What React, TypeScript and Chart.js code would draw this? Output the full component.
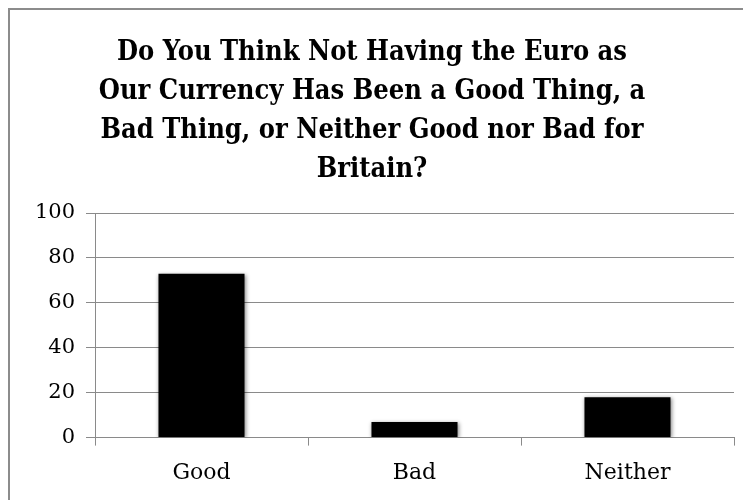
import React, { useEffect, useRef } from "react";
import { Chart, registerables } from "chart.js";

Chart.register(...registerables);

const titleLines = [
  "Do You Think Not Having the Euro as",
  "Our Currency Has Been a Good Thing, a",
  "Bad Thing, or Neither Good nor Bad for",
  "Britain?",
];
const categories = ["Good", "Bad", "Neither"];
const values = [73, 7, 18];
const yMin = 0;
const yMax = 100;
const yStep = 20;

const shadowPlugin = {
  id: "barShadow",
  beforeDatasetsDraw(chart: any) {
    const ctx = chart.ctx;
    ctx.save();
    ctx.shadowColor = "rgba(0,0,0,0.45)";
    ctx.shadowBlur = 4;
    ctx.shadowOffsetX = 1;
    ctx.shadowOffsetY = 1;
  },
  afterDatasetsDraw(chart: any) {
    chart.ctx.restore();
  },
};

export default function App() {
  const ref = useRef<HTMLCanvasElement | null>(null);
  useEffect(() => {
    document.body.style.overflow = "hidden";
    document.documentElement.style.overflow = "hidden";
    if (!ref.current) return;
    const gray = "#8a8a8a";
    const chart = new Chart(ref.current, {
      type: "bar",
      data: {
        labels: categories,
        datasets: [
          {
            data: values,
            backgroundColor: "#000000",
            borderWidth: 0,
            categoryPercentage: 1,
            barPercentage: 0.404,
          },
        ],
      },
      plugins: [shadowPlugin],
      options: {
        animation: false,
        responsive: false,
        maintainAspectRatio: false,
        layout: { padding: { left: 0, right: 7, top: 0, bottom: 0 } },
        plugins: {
          legend: { display: false },
          tooltip: { enabled: false },
          title: {
            display: true,
            text: titleLines,
            color: "#000000",
            font: { family: "'DejaVu Serif Condensed', 'DejaVu Serif'", size: 27, weight: "bold", lineHeight: 39 / 27 },
            padding: { top: 23, bottom: 24 },
          },
        },
        scales: {
          x: {
            grid: {
              display: true,
              drawOnChartArea: false,
              drawTicks: true,
              tickLength: 8,
              color: gray,
              lineWidth: 1,
            },
            border: { display: true, color: gray, width: 1 },
            ticks: {
              color: "#000000",
              font: { family: "'DejaVu Serif'", size: 22 },
              padding: 14,
            },
          },
          y: {
            min: yMin,
            max: yMax,
            afterFit: (s: any) => {
              s.width = 85;
            },
            grid: {
              color: gray,
              lineWidth: 1,
              tickLength: 9,
            },
            border: { display: true, color: gray, width: 1 },
            ticks: {
              stepSize: yStep,
              color: "#000000",
              font: { family: "'DejaVu Serif'", size: 21 },
              padding: 11,
            },
          },
        },
      },
    });
    return () => chart.destroy();
  }, []);
  return (
    <div
      style={{
        borderLeft: "2px solid #8c8c8c",
        borderTop: "2px solid #8c8c8c",
        width: 780,
        height: 520,
        boxSizing: "border-box",
        background: "#fff",
      }}
    >
      <canvas ref={ref} width={731} height={490} style={{ display: "block" }} />
    </div>
  );
}
